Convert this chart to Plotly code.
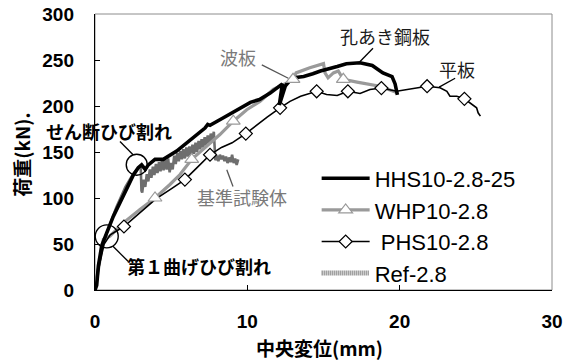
import plotly.graph_objects as go

# ---------------- data ----------------
hhs_x = [0, 0.11, 0.22, 0.44, 0.77, 1.2, 1.64, 2.08, 2.52, 2.84, 3.06, 3.3, 3.5, 3.94, 4.48,
         5.36, 6.24, 7.22, 7.4, 7.55, 8.4, 9.3, 10.2, 10.8, 11.5, 12.3, 12.1, 12.5, 12.8,
         13.2, 13.7, 14.3, 14.8, 15.9, 16.5, 17.4, 18.2, 18.9, 19.5, 19.7, 19.85]
hhs_y = [0, 5, 26, 48, 62, 80, 95, 111, 125, 133, 136, 131, 136, 142, 142,
         151, 163, 176, 180, 179, 187, 196, 204, 207, 214, 224, 201, 222, 228,
         231, 232, 235, 238, 243, 246, 247, 244, 236, 232, 224, 212]

whp_x = [0, 0.15, 0.3, 0.55, 0.98, 1.86, 2.95, 3.94, 4.92, 5.58, 6.35, 7.33, 8.2, 9.08,
         9.96, 10.83, 11.7, 12.6, 13.0, 13.2, 14.1, 15.0, 15.1, 15.3, 15.65, 15.97,
         16.3, 17.2, 18.05, 18.7, 19.9]
whp_y = [0, 15, 35, 55, 58.5, 73, 87.5, 100, 114.7, 125.5, 142, 156, 169, 183.5,
         196, 205, 218, 225, 229, 236, 241.5, 246, 236, 230.6, 236, 238,
         229, 226, 223.4, 221.5, 214]
whp_mark_x = [3.94, 6.35, 9.08, 13.0, 16.3]
whp_mark_y = [100, 142, 183.5, 229, 229]

phs_x = [0, 0.15, 0.3, 0.6, 1.0, 1.9, 3.0, 4.0, 5.0, 5.9, 6.7, 7.55, 8.3, 9.0, 9.9,
         10.5, 11.3, 12.15, 12.8, 13.5, 14.1, 14.55, 15.2, 15.9, 16.6, 17.4, 18.05,
         18.8, 19.8, 20.5, 21.3, 21.8, 22.65, 23.1, 23.3, 23.75, 24.25, 24.8, 25.05,
         25.15, 25.3]
phs_y = [0, 14, 28, 50, 60, 69, 85, 99, 110, 120, 133, 147, 155, 160, 170,
         178, 188, 198, 205, 210.6, 213.6, 216, 212.5, 211.4, 216, 213.6, 218,
         219.5, 216, 218, 219.8, 221.5, 219.8, 216, 210.6, 210.6, 207.8, 201.6, 198,
         192.6, 189]
phs_mark_x = [1.9, 5.9, 7.55, 9.9, 12.15, 14.55, 16.6, 18.8, 21.8, 24.25]
phs_mark_y = [69, 120, 147, 170, 198, 216, 216, 219.5, 221.5, 207.8]

ref_x = [0, 0.25, 0.5, 0.9, 1.4, 2.0, 2.5, 2.85, 3.0, 3.05,
         3.1, 3.2, 3.3, 3.4, 3.5, 3.6, 3.7, 3.8, 3.9, 4.0, 4.1, 4.2, 4.3, 4.4, 4.5,
         4.6, 4.7, 4.8, 4.9, 5.0, 5.1, 5.2, 5.3, 5.4, 5.5, 5.6, 5.7, 5.8, 5.9, 6.0,
         6.1, 6.2, 6.3, 6.4, 6.5, 6.6, 6.7, 6.8, 6.9, 7.0, 7.1, 7.2, 7.3, 7.4, 7.5,
         7.6, 7.7, 7.8, 7.9, 8.0, 8.1, 8.2, 8.3, 8.4, 8.5, 8.6, 8.7, 8.8, 8.9, 9.0,
         9.1, 9.2, 9.3, 9.4]
ref_y = [0, 28, 50, 68, 90, 112, 126, 133, 135, 108,
         106, 120, 112, 126, 118, 131, 122, 134, 125, 137, 127, 139, 129, 141, 130,
         142, 131, 143, 128, 138, 131, 146, 137, 149, 140, 151, 142, 153, 143, 155,
         145, 156, 146, 158, 148, 160, 150, 162, 153, 164, 155, 166, 157, 168, 160,
         170, 162, 172, 141, 146, 140, 147, 142, 146, 140, 145, 138, 144, 139, 147,
         138, 143, 136, 142]

x_ticks = [0, 10, 20, 30]
y_ticks = [0, 50, 100, 150, 200, 250, 300]

series_names = ["HHS10-2.8-25", "WHP10-2.8", " PHS10-2.8", "Ref-2.8"]

# ---------------- styles ----------------
BLACK = "#000000"
GRAY_WHP = "#9a9a9a"
GRAY_REF = "#6e6e6e"
CJK = "Noto Sans CJK JP"
LAT = "Liberation Sans"

fig = go.Figure()

fig.add_trace(go.Scatter(x=ref_x, y=ref_y, mode="lines",
                         line=dict(color=GRAY_REF, width=2.6), showlegend=False,
                         hoverinfo="skip"))
fig.add_trace(go.Scatter(x=whp_x, y=whp_y, mode="lines",
                         line=dict(color=GRAY_WHP, width=3.2), showlegend=False,
                         hoverinfo="skip"))
fig.add_trace(go.Scatter(x=phs_x, y=phs_y, mode="lines",
                         line=dict(color=BLACK, width=1.6), showlegend=False,
                         hoverinfo="skip"))
fig.add_trace(go.Scatter(x=phs_mark_x, y=phs_mark_y, mode="markers",
                         marker=dict(symbol="diamond", size=10, color="white",
                                     line=dict(color=BLACK, width=1.2)),
                         showlegend=False, hoverinfo="skip"))
fig.add_trace(go.Scatter(x=hhs_x, y=hhs_y, mode="lines",
                         line=dict(color=BLACK, width=3.6), showlegend=False,
                         hoverinfo="skip"))
fig.add_trace(go.Scatter(x=whp_mark_x, y=whp_mark_y, mode="markers",
                         marker=dict(symbol="triangle-up", size=12, color="white",
                                     line=dict(color=GRAY_WHP, width=1.2)),
                         showlegend=False, hoverinfo="skip"))

# legend entries
fig.add_trace(go.Scatter(x=[None], y=[None], mode="lines", name=series_names[0],
                         line=dict(color=BLACK, width=3.6)))
fig.add_trace(go.Scatter(x=[None], y=[None], mode="lines+markers", name=series_names[1],
                         line=dict(color=GRAY_WHP, width=3.2),
                         marker=dict(symbol="triangle-up", size=12, color="white",
                                     line=dict(color=GRAY_WHP, width=1.2))))
fig.add_trace(go.Scatter(x=[None], y=[None], mode="lines+markers", name=series_names[2],
                         line=dict(color=BLACK, width=1.6),
                         marker=dict(symbol="diamond", size=10, color="white",
                                     line=dict(color=BLACK, width=1.2))))
fig.add_trace(go.Scatter(x=[None], y=[None], mode="lines", name=series_names[3],
                         line=dict(color=GRAY_REF, width=5, dash="1px,1px")))

# ---------------- annotations ----------------
ann = []
def txt(x, y, s, color="#1a1a1a", bold=False, size=18):
    ann.append(dict(x=x, y=y, xref="x", yref="y", text=s, showarrow=False,
                    xanchor="center", yanchor="middle",
                    font=dict(family=CJK, size=size, color=color,
                              weight="bold" if bold else "normal")))

txt(19.04, 276.2, "孔あき鋼板")
txt(23.77, 240.3, "平板")
txt(9.39, 252.8, "波板", color="#7a7a7a")
txt(9.68, 100.9, "基準試験体", color="#7a7a7a")
txt(0.92, 172.5, "せん断ひび割れ", bold=True, color="#000000")
txt(6.83, 26.6, "第１曲げひび割れ", bold=True, color="#000000")

ann.append(dict(x=0.492, y=-0.21, xref="paper", yref="paper", text="中央変位(mm)",
                showarrow=False, xanchor="center", yanchor="middle",
                font=dict(family=CJK, size=19, color="#000", weight="bold")))
ann.append(dict(x=-0.160, y=0.49, xref="paper", yref="paper", text="荷重(kN).",
                showarrow=False, textangle=-90, xanchor="center", yanchor="middle",
                font=dict(family=CJK, size=19, color="#000", weight="bold")))

shapes = []
def seg(x0, y0, x1, y1, color):
    shapes.append(dict(type="line", xref="x", yref="y", x0=x0, y0=y0, x1=x1, y1=y1,
                       line=dict(color=color, width=1.3)))

seg(1.64, 161.4, 2.5, 147, "#000")
seg(1.18, 47.5, 2.17, 31.2, "#000")
seg(10.95, 244.7, 12.69, 230.2, "#555")
seg(8.65, 130.7, 9.06, 112.6, "#555")
seg(18.25, 262.8, 17.4, 248.3, "#000")
seg(23.64, 230.2, 22.59, 220.5, "#000")

for cx, cy, r in [(2.74, 136.2, 10.5), (0.77, 58.3, 11.5)]:
    shapes.append(dict(type="circle", xref="x", yref="y", xsizemode="pixel",
                       ysizemode="pixel", xanchor=cx, yanchor=cy,
                       x0=-r, x1=r, y0=-r, y1=r,
                       line=dict(color="#000", width=1.4)))

shapes.append(dict(type="rect", xref="paper", yref="paper", x0=0, y0=0, x1=1, y1=1,
                   line=dict(color="#8c8c8c", width=1), layer="below"))

fig.update_layout(
    template="none",
    width=572, height=360,
    margin=dict(l=95, r=20, t=14, b=70, autoexpand=False),
    paper_bgcolor="white", plot_bgcolor="white",
    annotations=ann, shapes=shapes,
    showlegend=True,
    legend=dict(x=0.485, y=0.48, xanchor="left", yanchor="top",
                bgcolor="rgba(0,0,0,0)", itemwidth=48, tracegroupgap=0,
                font=dict(family=LAT, size=22, color="#000")),
)
fig.update_xaxes(range=[0, 30], tickvals=x_ticks, ticks="inside", ticklen=5,
                 tickcolor="#000", showline=True, linecolor="#000", linewidth=1.2,
                 showgrid=False, zeroline=False, automargin=False,
                 tickfont=dict(family=LAT, size=19, color="#000", weight="bold"),
                 ticklabelstandoff=14)
fig.update_yaxes(range=[0, 300], tickvals=y_ticks, ticks="inside", ticklen=5,
                 tickcolor="#000", showline=True, linecolor="#000", linewidth=1.2,
                 showgrid=False, zeroline=False, automargin=False,
                 tickfont=dict(family=LAT, size=19, color="#000", weight="bold"),
                 ticklabelstandoff=16)

fig.write_html("out.html",
               config={"displayModeBar": False, "staticPlot": True},
               post_script="document.body.style.margin='0';"
                           "document.body.style.overflow='hidden';")
